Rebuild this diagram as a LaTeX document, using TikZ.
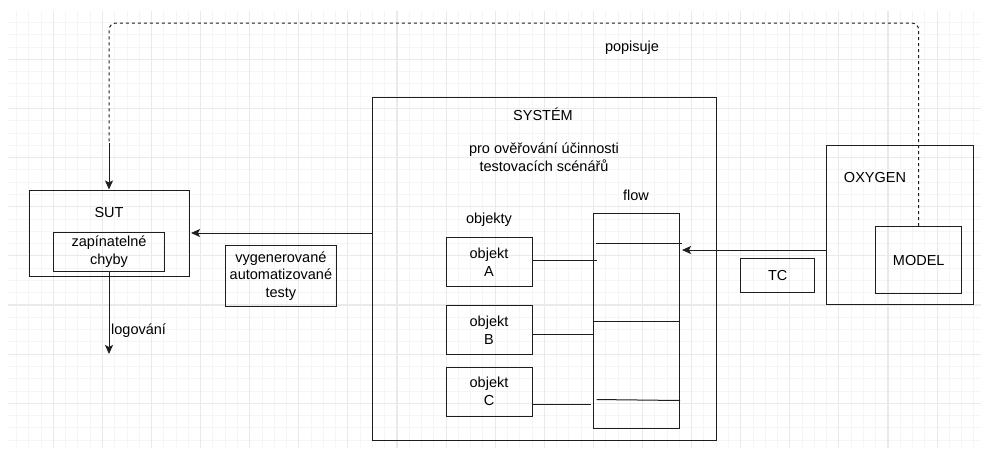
\documentclass[tikz,border=0pt]{standalone}
\usepackage{fontspec}
\setmainfont{Liberation Sans}
\usetikzlibrary{arrows.meta,calc}
\newcommand\dfont{\fontsize{14.5}{17.5}\selectfont}
\definecolor{gridminor}{HTML}{F5F5F5}
\definecolor{gridmajor}{HTML}{EAEAEA}
\definecolor{ink}{HTML}{1E1E1E}
\tikzset{
  box/.style={draw=ink, line width=1pt, rectangle, inner sep=0pt, fill=none, font=\dfont, align=center, text=black},
  lbl/.style={font=\dfont, inner sep=0pt, align=center, text=black},
  conn/.style={draw=ink, line width=1pt},
  arr/.style={conn, -{Stealth[length=9pt,width=8pt,inset=2pt]}},
  dashline/.style={conn, dash pattern=on 3pt off 3pt, rounded corners=7pt}
}
\begin{document}
\begin{tikzpicture}[x=1pt,y=-1pt]
\useasboundingbox (0,0) rectangle (981,448);
\fill[white] (0,0) rectangle (981,448);
% grid
\begin{scope}
\clip (8,11) rectangle (981,448);
\foreach \i in {0,...,80} {
  \pgfmathsetmacro\xx{4.2+12.275*\i}
  \draw[gridminor, line width=0.9pt] (\xx,11) -- (\xx,448);
}
\foreach \i in {0,...,36} {
  \pgfmathsetmacro\yy{10.2+12.285*\i}
  \draw[gridminor, line width=0.9pt] (8,\yy) -- (981,\yy);
}
\foreach \i in {0,...,20} {
  \pgfmathsetmacro\xx{4.2+49.1*\i}
  \draw[gridmajor, line width=1.1pt] (\xx,11) -- (\xx,448);
}
\foreach \i in {0,...,9} {
  \pgfmathsetmacro\yy{10.2+49.14*\i}
  \draw[gridmajor, line width=1.1pt] (8,\yy) -- (981,\yy);
}
\end{scope}

% boxes
\node[box, minimum width=344pt, minimum height=343pt] (sys) at (544,268.5) {};
\node[box, minimum width=160pt, minimum height=86pt] (sut) at (109,233) {};
\node[box, minimum width=110.6pt, minimum height=38.3pt] (zap) at (109,251.9) {zapínatelné\\chyby};
\node[box, minimum width=110.3pt, minimum height=61.7pt] (vyg) at (280.9,275.9) {vygenerované\\automatizované\\testy};
\node[box, minimum width=86pt, minimum height=49.3pt] (objA) at (489,262.3) {objekt\\A};
\node[box, minimum width=86pt, minimum height=49pt] (objB) at (489,330.2) {objekt\\B};
\node[box, minimum width=86pt, minimum height=49pt] (objC) at (489,391.5) {objekt\\C};
\node[box, minimum width=86.2pt, minimum height=215pt] (flow) at (636.4,320.8) {};
\node[box, minimum width=147.3pt, minimum height=159.3pt] (oxy) at (900.3,225.3) {};
\node[box, minimum width=86pt, minimum height=66.6pt] (model) at (918.7,260) {MODEL};
\node[box, minimum width=74pt, minimum height=33.6pt] (tc) at (777.7,275.5) {TC};

% labels
\node[lbl] (systxt) at (543,114) {SYSTÉM};
\node[lbl] (protxt) at (544,157) {pro ověřování účinnosti\\testovacích scénářů};
\node[lbl] (flowtxt) at (636,195) {flow};
\node[lbl] (objtxt) at (489,220) {objekty};
\node[lbl] (oxytxt) at (875,178) {OXYGEN};
\node[lbl] (suttxt) at (109,213) {SUT};
\node[lbl] (poptxt) at (632,48) {popisuje};

% flow internal lines
\draw[conn] ($(flow.north west)+(3,30.7)$) -- ($(flow.north east)+(2.3,30.7)$);
\draw[conn] ($(flow.north west)+(0,108.4)$) -- ($(flow.north east)+(0,108.4)$);
\draw[conn] ($(flow.north west)+(3.7,186.7)$) -- ($(flow.north east)+(0,187.7)$);

% object connectors
\draw[conn] ([yshift=2.3pt]objA.east) -- ([yshift=2.3pt,xshift=4pt]objA.east -| flow.west);
\draw[conn] ([yshift=-3.8pt]objB.east) -- ([yshift=-3.8pt]objB.east -| flow.west);
\draw[conn] ([yshift=-12.5pt]objC.east) -- ([yshift=-12.5pt,xshift=-1.5pt]objC.east -| flow.west);

% OXYGEN -> flow
\draw[arr] ([yshift=-24.7pt]oxy.west) -- ([yshift=-24.7pt,xshift=2pt]oxy.west -| flow.east);

% SYSTEM -> SUT
\draw[arr, shorten >=1.5pt] (sys.west |- sut.east) -- (sut.east);

% logovani
\coordinate (logend) at (109,354);
\draw[arr] (zap.south) -- (logend);
\node[lbl, anchor=west] (logtxt) at (111,331) {logování};

% popisuje dashed
\coordinate (topy) at (0,23);
\coordinate (dashend) at (109,143);
\draw[dashline] (model.north) -- (model.north |- topy) -- (dashend |- topy) -- (dashend);
\draw[arr] (dashend) -- (sut.north);
\end{tikzpicture}
\end{document}
